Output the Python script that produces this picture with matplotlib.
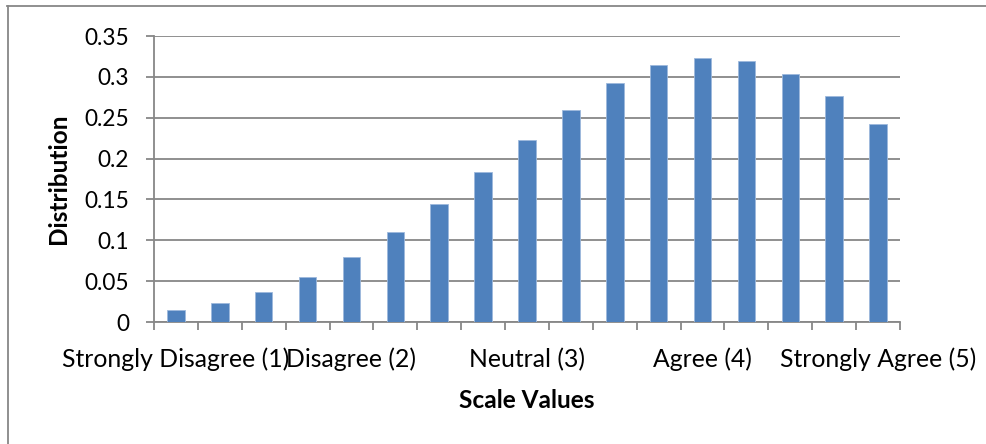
import matplotlib
matplotlib.use("Agg")
from matplotlib import pyplot as plt
from matplotlib.lines import Line2D

# survey scale distribution, 17 points along the 1..5 scale
valores = [0.0142, 0.0236, 0.037, 0.0554, 0.0798, 0.110, 0.1445, 0.1836, 0.2227,
           0.260, 0.292, 0.314, 0.3235, 0.320, 0.304, 0.277, 0.2428]
rotulos_pos = [0, 4, 8, 12, 16]
rotulos = ['Strongly Disagree (1)', 'Disagree (2)', 'Neutral (3)', 'Agree (4)', 'Strongly Agree (5)']
yticks = [0, 0.05, 0.1, 0.15, 0.2, 0.25, 0.3, 0.35]

plt.rcParams['font.family'] = ['Lato', 'DejaVu Sans']
cinza = '#878787'

fig = plt.figure(figsize=(9.86, 4.44), dpi=100)
ax = fig.add_axes([154 / 986, 1 - 322 / 444, 746 / 986, 286 / 444])

x = list(range(len(valores)))
ax.bar(x, valores, width=0.4, color='#4F81BD', edgecolor='#9DB9DC', linewidth=0.6, zorder=3)

ax.set_xlim(-0.5, len(valores) - 0.5)
ax.set_ylim(0, 0.35)

ax.set_yticks(yticks)
ax.set_yticklabels([f'{v:g}' for v in yticks])
ax.yaxis.grid(True, color=cinza, linewidth=1.3, zorder=0)

ax.set_xticks(rotulos_pos)
ax.set_xticklabels(rotulos)
ax.set_xticks([i - 0.5 for i in range(len(valores) + 1)], minor=True)
ax.tick_params(axis='x', which='major', length=0, pad=18.5, labelsize=17.8, colors='black')
ax.tick_params(axis='x', which='minor', length=6, width=1.3, color=cinza)
ax.tick_params(axis='y', length=6, width=1.3, color=cinza, pad=12, labelsize=16.3)

for lado in ['top', 'right']:
    ax.spines[lado].set_visible(False)
for lado in ['left', 'bottom']:
    ax.spines[lado].set_color(cinza)
    ax.spines[lado].set_linewidth(1.3)

ax.set_ylabel('Distribution', fontsize=17.6, fontweight='bold', labelpad=10)
ax.set_xlabel('Scale Values', fontsize=17.6, fontweight='bold', labelpad=13)

# moldura externa do grafico (so topo e esquerda aparecem)
W, H = 986, 444
fig.add_artist(Line2D([7.5 / W, 7.5 / W], [0, 1 - 6 / H], color=cinza, linewidth=1.3))
fig.add_artist(Line2D([7 / W, 1], [1 - 6.5 / H, 1 - 6.5 / H], color=cinza, linewidth=1.3))

fig.savefig('out.png', dpi=100)
